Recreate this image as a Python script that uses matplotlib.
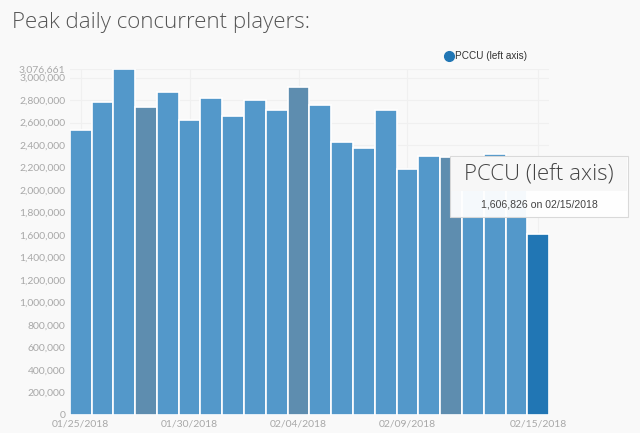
import matplotlib.pyplot as plt
from matplotlib.patches import Rectangle
from matplotlib.lines import Line2D
from matplotlib.ticker import FixedLocator

# daily peak concurrent players, 01/25/2018 .. 02/15/2018
dates = ["01/25/2018", "01/26/2018", "01/27/2018", "01/28/2018", "01/29/2018",
         "01/30/2018", "01/31/2018", "02/01/2018", "02/02/2018", "02/03/2018",
         "02/04/2018", "02/05/2018", "02/06/2018", "02/07/2018", "02/08/2018",
         "02/09/2018", "02/10/2018", "02/11/2018", "02/12/2018", "02/13/2018",
         "02/14/2018", "02/15/2018"]
pccu = [2530000, 2780000, 3076661, 2740000, 2870000, 2620000, 2820000,
        2660000, 2800000, 2710000, 2920000, 2760000, 2430000, 2370000,
        2715000, 2190000, 2300000, 2290000, 2250000, 2320000, 2200000,
        1606826]
sundays = ["01/28/2018", "02/04/2018", "02/11/2018"]
label_dates = ["01/25/2018", "01/30/2018", "02/04/2018", "02/09/2018", "02/15/2018"]
yticks = list(range(0, 3000001, 200000)) + [3076661]

bg = "#f9f9f9"
fig = plt.figure(figsize=(6.4, 4.33), dpi=100, facecolor=bg)
ax = fig.add_axes([0.109, 0.0416, 0.749, 0.799], facecolor=bg)

colors = []
for i, d in enumerate(dates):
    if i == len(dates) - 1:
        colors.append("#2176b4")
    elif d in sundays:
        colors.append("#5e8daf")
    else:
        colors.append("#5398ca")

x = list(range(len(dates)))
ax.bar(x, pccu, width=1.0, color=colors, edgecolor="white", linewidth=1.2, zorder=2)

ax.set_xlim(-0.5, len(dates) - 0.5)
ax.set_ylim(0, max(pccu))
ax.yaxis.set_major_locator(FixedLocator(yticks))
ax.set_yticklabels([f"{v:,}" for v in yticks])
ax.set_xticks([dates.index(d) for d in label_dates])
ax.set_xticklabels(label_dates)
ax.tick_params(axis="both", length=0, labelsize=7.5, labelcolor="#a8a8a8",
               pad=3)
for lab in ax.get_yticklabels() + ax.get_xticklabels():
    lab.set_family("Lato")
ax.grid(True, color="#f0f0f0", linewidth=0.8, zorder=0)
for s in ax.spines.values():
    s.set_visible(False)

fig.text(0.018, 0.948, "Peak daily concurrent players:", fontsize=16,
         color="#555555", family="Open Sans", fontweight="light", va="center")

# legend
fig.add_artist(Line2D([0.701], [0.871], transform=fig.transFigure, marker="o",
                      markersize=7, color="#2176b4", linestyle="none"))
fig.text(0.711, 0.871, "PCCU (left axis)", fontsize=7.2, color="#333333",
         family="Liberation Sans", va="center")

# tooltip
fig.add_artist(Rectangle((0.703, 0.499), 0.278, 0.141, transform=fig.transFigure,
                         facecolor="white", edgecolor="#d8d8d8", linewidth=0.8,
                         alpha=0.95, zorder=5))
fig.add_artist(Rectangle((0.705, 0.558), 0.274, 0.080, transform=fig.transFigure,
                         facecolor="#f7f7f7", edgecolor="none", zorder=6))
fig.text(0.842, 0.595, "PCCU (left axis)", fontsize=16, color="#444444",
         family="Open Sans", fontweight="light", ha="center", va="center", zorder=7)
fig.text(0.842, 0.527, f"{pccu[-1]:,} on {dates[-1]}", fontsize=7.6,
         color="#444444", family="Liberation Sans", ha="center", va="center", zorder=7)

fig.savefig("out.png", dpi=100, facecolor=bg)
